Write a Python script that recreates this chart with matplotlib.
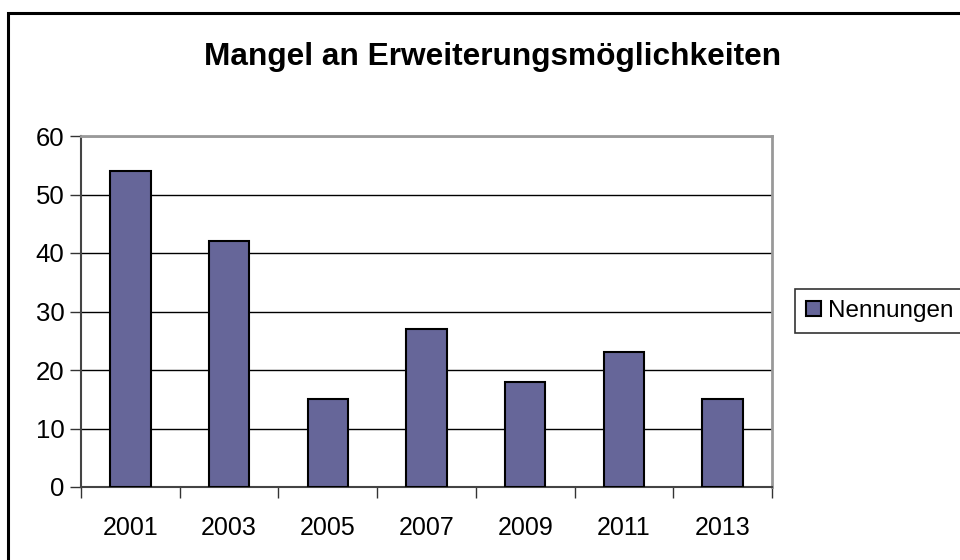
import matplotlib
matplotlib.use("Agg")
import matplotlib.pyplot as plt
from matplotlib.patches import Rectangle
import numpy as np

years = ["2001", "2003", "2005", "2007", "2009", "2011", "2013"]
nennungen = [54, 42, 15, 27, 18, 23, 15]
title = "Mangel an Erweiterungsmöglichkeiten"
series_name = "Nennungen"

plt.rcParams['font.family'] = ['Liberation Sans', 'DejaVu Sans']

fig = plt.figure(figsize=(9.6, 5.6), dpi=100)
fig.patch.set_facecolor('white')

# outer chart border
fig.patches.append(Rectangle((8/960, -0.1), 1.2, 1 - 13/560 + 0.1,
                             transform=fig.transFigure, fill=False,
                             edgecolor='black', linewidth=2.2, zorder=0))

ax = fig.add_axes([81/960, 73/560, (772-81)/960, (487-136)/560])
x = np.arange(len(years))
ax.bar(x, nennungen, width=0.41, color='#666699', edgecolor='black',
       linewidth=1.5, zorder=3, label=series_name)

ax.set_xlim(-0.5, len(years) - 0.5)
ax.set_ylim(0, 60)
ax.set_yticks(np.arange(0, 61, 10))
ax.yaxis.grid(True, color='black', linewidth=1.0, zorder=0)
ax.set_axisbelow(True)

ax.set_xticks(x)
ax.set_xticklabels(years)
ax.set_xticks(np.arange(-0.5, len(years), 1.0), minor=True)
ax.tick_params(axis='x', which='major', length=0, pad=21, labelsize=18)
ax.tick_params(axis='x', which='minor', length=8, width=1, color='#333333')
ax.tick_params(axis='y', length=8, width=1, color='#333333', labelsize=18.5, pad=4)

for s in ['top', 'right']:
    ax.spines[s].set_color('#999999')
    ax.spines[s].set_linewidth(2)
ax.spines['left'].set_color('#444444')
ax.spines['left'].set_linewidth(1.5)
ax.spines['bottom'].set_color('#444444')
ax.spines['bottom'].set_linewidth(1.5)

fig.text(493/960, 1 - 57/560, title, ha='center', va='center',
         fontsize=22.8, fontweight='bold')

leg = fig.legend(loc='center left', bbox_to_anchor=(795/960, 1 - 311/560),
                 fontsize=17.5, frameon=True, fancybox=False,
                 edgecolor='black', handlelength=0.6, handleheight=0.6,
                 handletextpad=0.3, borderpad=0.45, borderaxespad=0)
leg.get_frame().set_linewidth(1.2)

fig.savefig("out.png", dpi=100)
